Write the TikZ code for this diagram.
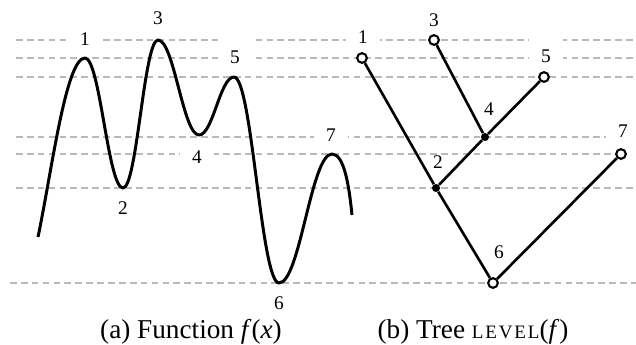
\documentclass[tikz,border=0pt]{standalone}
\usepackage{fontspec}
\setmainfont{Liberation Serif}

\begin{document}
\begin{tikzpicture}[x=0.02cm, y=-0.02cm, lvl/.style={draw=gray!55, line width=0.7pt, dash pattern=on 3.8pt off 2.4pt}, fn/.style={line width=1.7pt, line join=round}, edge/.style={line width=1.5pt}, leaf/.style={circle, draw, fill=white, line width=1.2pt, inner sep=0pt, minimum size=5.5pt}, fork/.style={circle, fill=black, inner sep=0pt, minimum size=4.6pt}, num/.style={anchor=base, fill=white, inner sep=0pt, minimum width=0.68cm, text height=13.9pt, text depth=2.3pt, font=\fontsize{11}{13}\selectfont}, capt/.style={anchor=base, font=\fontsize{15.5}{18}\selectfont}]
	\useasboundingbox (0,0) rectangle (636,345);
	% level lines
	\foreach \y in {40,58,77,137,188} {\draw[lvl] (16,\y) -- (636,\y);}
	\draw[lvl] (16,154) -- (621,154);
	\draw[lvl] (10,283) -- (636,283);
	% labels of f
	\foreach \n/\x/\y in {1/85/45, 2/123/214, 3/158/24, 4/197/163, 5/235/63, 6/279/309, 7/331/141} {\node[num] (la\n) at (\x,\y) {\n};}
	% labels of the tree
	\foreach \n/\x/\y in {1/363/43, 3/434/26, 4/489/115, 5/546/62, 6/499/258, 7/623/137} {\node[num] (lb\n) at (\x,\y) {\n};}
	\node[num, fill=none] (lb2) at (438,168) {2};
	% function f(x)
	\coordinate (a0) at (38,237);
	\coordinate (a1) at (85,58);
	\coordinate (a2) at (123,188);
	\coordinate (a3) at (158,40);
	\coordinate (a4) at (199,135);
	\coordinate (a5) at (234,77);
	\coordinate (a6) at (279,283);
	\coordinate (a7) at (332,154);
	\coordinate (a8) at (352,215);
	\draw[fn] (a0) .. controls (52,170) and (66,58) .. (a1) .. controls (100,58) and (108,188) .. (a2) .. controls (137,188) and (144,40) .. (a3) .. controls (174,40) and (183,135) .. (a4) .. controls (213,135) and (220,77) .. (a5) .. controls (252,77) and (261,283) .. (a6) .. controls (300,283) and (311,154) .. (a7) .. controls (344,154) and (349,185) .. (a8);
	% tree LEVEL(f)
	\node[leaf] (n1) at (362,58) {};
	\node[leaf] (n3) at (434,40) {};
	\node[leaf] (n5) at (544,77) {};
	\node[fork] (n4) at (485,137) {};
	\node[leaf] (n7) at (621,154) {};
	\node[fork] (n2) at (436,188) {};
	\node[leaf] (n6) at (493,283) {};
	\foreach \a/\b in {n1/n2, n3/n4, n5/n4, n4/n2, n2/n6, n7/n6} {\draw[edge] (\a) -- (\b);}
	% captions
	\node[capt] (ca) at (191,338) {(a) Function \textit{f}(\textit{x})};
	\node[capt] (cb) at (473,338) {(b) Tree {\fontsize{10.8}{12}\selectfont\addfontfeatures{LetterSpace=10}LEVEL}(\textit{f})};
\end{tikzpicture}
\end{document}
